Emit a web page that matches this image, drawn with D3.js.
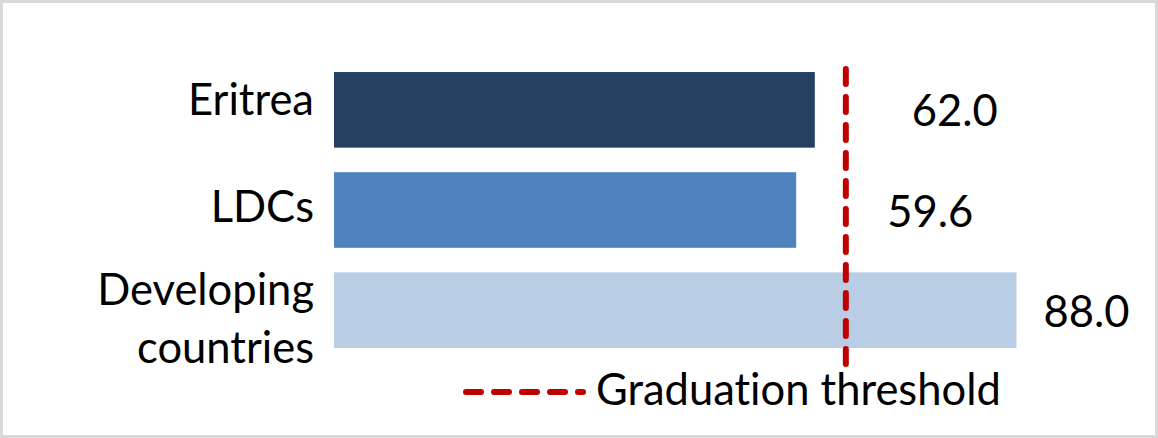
<!DOCTYPE html>
<html>
<head>
<meta charset="utf-8">
<script src="https://cdn.jsdelivr.net/npm/d3@7"></script>
<style>
  body { margin: 0; background: #fff; }
  svg text { font-family: Lato, "Open Sans", sans-serif; fill: #000; font-variant-ligatures: none; font-feature-settings: "liga" 0, "clig" 0; }
</style>
</head>
<body>
<div id="chart"></div>
<script>

// Data
const categories = ["Eritrea", "LDCs", "Developing countries"];
const values = [62.0, 59.6, 88.0];
const barColors = ["#264061", "#4f81bd", "#b9cde5"];
const threshold = 66;
const legendLabel = "Graduation threshold";

// category label lines (wrapped like the original)
const labelLines = [["Eritrea"], ["LDCs"], ["Developing", "countries"]];

// Layout
const width = 1158, height = 438;
const plot = { top: 53, bottom: 367, left: 334, right: 1109.5 };
const fontSize = 43.5;
const catLabelDy = [5, 12, -5];   // baseline offset from band centre (first line)
const lineGap = 58;
const valueLabelDx = [97, 91, 27]; // gap from bar end to value label

let svg = d3.select("#chart").append("svg")
  .attr("width", width)
  .attr("height", height);

// outer border
svg.append("rect")
  .attr("x", 1.5).attr("y", 1.5)
  .attr("width", width - 3).attr("height", height - 3)
  .attr("fill", "#fff")
  .attr("stroke", "#d9d9d9")
  .attr("stroke-width", 3);

// Scales
let x = d3.scaleLinear()
  .domain([0, 100])
  .range([plot.left, plot.right]);

let y = d3.scaleBand()
  .domain(categories)
  .range([plot.top, plot.bottom])
  .paddingInner(0.245)
  .paddingOuter(0.19);

let data = categories.map((c, i) => ({ name: c, value: values[i], color: barColors[i], lines: labelLines[i], i: i }));

// Bars
svg.selectAll(".bar")
  .data(data)
  .enter().append("rect")
  .attr("class", "bar")
  .attr("x", x(0))
  .attr("y", d => y(d.name))
  .attr("width", d => x(d.value) - x(0))
  .attr("height", y.bandwidth())
  .attr("fill", d => d.color);

// Category labels
let cat = svg.selectAll(".cat")
  .data(data)
  .enter().append("text")
  .attr("class", "cat")
  .attr("text-anchor", "end")
  .attr("font-size", fontSize)
  .attr("x", x(0) - 20)
  .attr("y", d => y(d.name) + y.bandwidth() / 2 + catLabelDy[d.i]);

cat.selectAll("tspan")
  .data(d => d.lines)
  .enter().append("tspan")
  .attr("x", x(0) - 20)
  .attr("dy", (l, j) => j === 0 ? 0 : lineGap)
  .text(l => l);

// Value labels
svg.selectAll(".val")
  .data(data)
  .enter().append("text")
  .attr("class", "val")
  .attr("font-size", fontSize)
  .attr("x", d => x(d.value) + valueLabelDx[d.i])
  .attr("y", d => y(d.name) + y.bandwidth() / 2 + 16.5)
  .text(d => d3.format(".1f")(d.value));

// Threshold line (drawn bottom to top)
svg.append("line")
  .attr("x1", x(threshold)).attr("x2", x(threshold))
  .attr("y1", plot.bottom - 3).attr("y2", plot.top + 3)
  .attr("stroke", "#c00000")
  .attr("stroke-width", 6)
  .attr("stroke-linecap", "round")
  .attr("stroke-dasharray", "15,13");

// Legend
let legend = svg.append("g")
  .attr("transform", "translate(466,392)");

legend.append("line")
  .attr("x1", 0).attr("x2", 117)
  .attr("y1", 0).attr("y2", 0)
  .attr("stroke", "#c00000")
  .attr("stroke-width", 6)
  .attr("stroke-linecap", "round")
  .attr("stroke-dasharray", "15,13");

legend.append("text")
  .attr("x", 130)
  .attr("y", 13)
  .attr("font-size", fontSize)
  .text(legendLabel);

</script>
</body>
</html>
